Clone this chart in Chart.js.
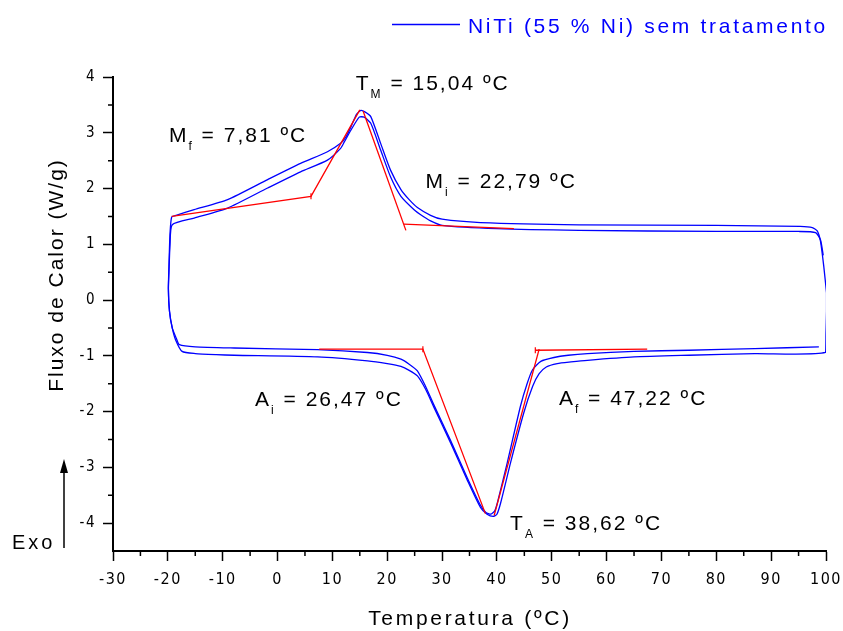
<!DOCTYPE html>
<html>
<head>
<meta charset="utf-8">
<script src="https://cdn.jsdelivr.net/npm/chart.js@4/dist/chart.umd.min.js"></script>
<style>
  html, body { margin: 0; padding: 0; background: #fff; }
</style>
</head>
<body>
<canvas id="dsc" width="843" height="631"></canvas>
<script>
// DSC curve, NiTi (55 % Ni) sem tratamento
// ciclo externo (upper branch on top, lower branch on bottom)
var externoT = [100.1, 99.6, 99.0, 98.4, 97.5, 95.3, 80, 55, 37, 30, 27.9, 25.5, 24.0, 22.5, 20.6, 18.8, 17.0, 16.0, 15.2, 14.4, 13.4, 12.5, 11.5, 9.1, 4.2, -1.8, -9.1, -15.2, -18.5, -19.3, -19.6, -19.8, -19.9, -19.7, -19.2, -18.6, -17.4, -15.0, -11.2, -7.9, 7.3, 16.4, 20.0, 22.5, 24.0, 25.5, 27.0, 28.5, 31.6, 34.6, 37.0, 38.2, 39.3, 40.0, 40.7, 42.5, 44.9, 46.5, 47.7, 49.0, 51.0, 53.5, 56.5, 65, 75, 87, 99.9, 100.0, 100.1, 100.1];
var externoQ = [0.13, 0.60, 1.05, 1.24, 1.30, 1.32, 1.34, 1.35, 1.39, 1.45, 1.52, 1.66, 1.80, 1.98, 2.33, 2.81, 3.29, 3.37, 3.40, 3.33, 3.11, 2.93, 2.81, 2.66, 2.45, 2.16, 1.80, 1.62, 1.52, 1.49, 1.20, 0.60, 0.20, -0.20, -0.50, -0.71, -0.92, -0.96, -0.98, -0.99, -1.02, -1.09, -1.14, -1.19, -1.26, -1.36, -1.60, -1.92, -2.57, -3.23, -3.72, -3.84, -3.88, -3.84, -3.63, -2.91, -2.02, -1.55, -1.32, -1.20, -1.14, -1.11, -1.08, -1.02, -0.99, -0.96, -0.94, -0.60, -0.20, 0.13];
// ciclo interno
var internoT = [99.5, 99.0, 98.1, 95, 80, 55, 40, 30, 27.9, 26.1, 24.9, 22.5, 20.6, 18.8, 17.0, 15.8, 14.9, 13.4, 12.2, 11.5, 9.1, 4.2, -1.8, -9.1, -15.2, -19.2, -19.6, -19.8, -19.9, -19.7, -19.2, -18.4, -17.9, -15.0, -7.9, 7.3, 16.4, 20.0, 22.5, 24.0, 25.5, 27.0, 28.5, 31.6, 34.6, 37.0, 38.0, 38.9, 39.6, 40.1, 41.9, 44.3, 45.5, 46.5, 48.0, 50.4, 53.0, 56.5, 65, 75, 87, 98.7];
var internoQ = [0.80, 1.08, 1.21, 1.23, 1.23, 1.25, 1.28, 1.34, 1.42, 1.53, 1.62, 1.86, 2.21, 2.69, 3.17, 3.28, 3.28, 3.05, 2.84, 2.72, 2.51, 2.30, 2.01, 1.65, 1.47, 1.35, 1.00, 0.50, 0.20, -0.20, -0.50, -0.70, -0.80, -0.84, -0.86, -0.89, -0.94, -0.99, -1.06, -1.15, -1.27, -1.55, -1.88, -2.53, -3.19, -3.68, -3.81, -3.84, -3.78, -3.63, -2.91, -1.90, -1.50, -1.25, -1.10, -1.03, -0.99, -0.96, -0.92, -0.90, -0.87, -0.84];

// tangent constructions (red)
var tanMfT = [-19.3, 6.1, 15.0];
var tanMfQ = [1.50, 1.86, 3.41];
var tanMiT = [15.6, 23.4];
var tanMiQ = [3.39, 1.25];
var baseMiT = [23.0, 43.1];
var baseMiQ = [1.36, 1.28];
var tanAiT = [7.6, 26.5, 37.9];
var tanAiQ = [-0.88, -0.88, -3.83];
var tanAfT = [39.5, 47.7];
var tanAfQ = [-3.86, -0.88];
var baseAfT = [47.0, 67.4];
var baseAfQ = [-0.90, -0.88];

var xTicks = [-30, -20, -10, 0, 10, 20, 30, 40, 50, 60, 70, 80, 90, 100];
var yTicks = [-4, -3, -2, -1, 0, 1, 2, 3, 4];

var legendLabel = 'NiTi (55 % Ni) sem tratamento';
var xTitle = 'Temperatura (\u00baC)';
var yTitle = 'Fluxo de Calor (W/g)';

// temperatures marked on the curve: letter, subscript, value
var marcas = [
  { t: 'T', s: 'M', v: '15,04', x: 14.26, y: 3.77 },
  { t: 'M', s: 'f', v: '7,81', x: -19.8, y: 2.84 },
  { t: 'M', s: 'i', v: '22,79', x: 27.0, y: 2.01 },
  { t: 'A', s: 'i', v: '26,47', x: -4.1, y: -1.90 },
  { t: 'A', s: 'f', v: '47,22', x: 51.3, y: -1.89 },
  { t: 'T', s: 'A', v: '38,62', x: 42.4, y: -4.12 }
];

function pts(xs, ys) {
  return xs.map(function (x, i) { return { x: x, y: ys[i] }; });
}

var BLUE = '#0000ff', RED = '#ff0000';
var FONT = "'Liberation Sans', Arial, sans-serif";
var NARROW = "'Liberation Sans Narrow', 'DejaVu Sans Condensed', 'Liberation Sans', sans-serif";

// little cross mark on the corner of a construction
function redSet(xs, ys, corner) {
  return {
    data: pts(xs, ys), borderColor: RED, borderWidth: 1.3, showLine: true, tension: 0, order: 0,
    pointStyle: 'line', rotation: 90, pointBorderColor: RED, pointBorderWidth: 1.2,
    pointRadius: xs.map(function (v, i) { return i === corner ? 3 : 0; })
  };
}

var extras = {
  id: 'extras',
  beforeDraw: function (chart) {
    chart.ctx.letterSpacing = '1.5px';
  },
  afterDraw: function (chart) {
    var ctx = chart.ctx, xs = chart.scales.x, ys = chart.scales.y, area = chart.chartArea;
    ctx.save();
    // minor ticks
    ctx.strokeStyle = '#000';
    ctx.lineWidth = 1.5;
    ctx.beginPath();
    for (var v = -25; v < 100; v += 10) {
      var px = xs.getPixelForValue(v);
      ctx.moveTo(px, area.bottom); ctx.lineTo(px, area.bottom + 5);
    }
    for (var w = -3.5; w < 4; w += 1) {
      var py = ys.getPixelForValue(w);
      ctx.moveTo(area.left, py); ctx.lineTo(area.left - 5, py);
    }
    ctx.stroke();

    // temperature labels
    ctx.fillStyle = '#000';
    ctx.textBaseline = 'alphabetic';
    ctx.textAlign = 'left';
    marcas.forEach(function (m) {
      var x0 = xs.getPixelForValue(m.x), y0 = ys.getPixelForValue(m.y);
      ctx.letterSpacing = '2px';
      ctx.font = '21px ' + FONT;
      ctx.fillText(m.t, x0, y0);
      var x1 = x0 + ctx.measureText(m.t).width;
      ctx.font = '12px ' + FONT;
      ctx.fillText(m.s, x1, y0 + 8);
      var x2 = x1 + ctx.measureText(m.s).width;
      ctx.font = '21px ' + FONT;
      ctx.fillText(' = ' + m.v + ' \u00baC', x2, y0);
    });

    // legend
    ctx.strokeStyle = BLUE;
    ctx.lineWidth = 1.3;
    ctx.beginPath(); ctx.moveTo(392, 24.5); ctx.lineTo(460, 24.5); ctx.stroke();
    ctx.fillStyle = BLUE;
    ctx.font = '21px ' + FONT;
    ctx.letterSpacing = '2.7px';
    ctx.fillText(legendLabel, 468, 32.5);

    // axis titles
    ctx.fillStyle = '#000';
    ctx.letterSpacing = '2.7px';
    ctx.textAlign = 'center';
    ctx.fillText(xTitle, 470, 625);
    ctx.save();
    ctx.translate(63, 275);
    ctx.rotate(-Math.PI / 2);
    ctx.letterSpacing = '2px';
    ctx.fillText(yTitle, 0, 0);
    ctx.restore();

    // Exo arrow
    ctx.textAlign = 'left';
    ctx.font = '20px ' + FONT;
    ctx.letterSpacing = '3px';
    ctx.fillText('Exo', 12, 549);
    ctx.strokeStyle = '#000';
    ctx.lineWidth = 1.5;
    ctx.beginPath(); ctx.moveTo(64, 472); ctx.lineTo(64, 548); ctx.stroke();
    ctx.beginPath();
    ctx.moveTo(64, 459); ctx.lineTo(60, 473); ctx.lineTo(68, 473); ctx.closePath();
    ctx.fill();
    ctx.restore();
  }
};

new Chart(document.getElementById('dsc'), {
  type: 'scatter',
  data: {
    datasets: [
      redSet(tanMfT, tanMfQ, 1),
      redSet(tanMiT, tanMiQ, -1),
      redSet(baseMiT, baseMiQ, -1),
      redSet(tanAiT, tanAiQ, 1),
      redSet(tanAfT, tanAfQ, -1),
      redSet(baseAfT, baseAfQ, 0),
      { label: legendLabel, data: pts(externoT, externoQ), borderColor: BLUE, borderWidth: 1.3, showLine: true, pointRadius: 0, tension: 0.2, order: 1 },
      { label: legendLabel, data: pts(internoT, internoQ), borderColor: BLUE, borderWidth: 1.3, showLine: true, pointRadius: 0, tension: 0.2, order: 1 }
    ]
  },
  options: {
    responsive: false,
    animation: false,
    layout: { padding: { left: 0, top: 77, right: 17, bottom: 0 } },
    plugins: { legend: { display: false }, tooltip: { enabled: false } },
    scales: {
      x: {
        type: 'linear', min: -30, max: 100,
        afterBuildTicks: function (s) { s.ticks = xTicks.map(function (v) { return { value: v }; }); },
        afterFit: function (s) { s.height = 80; s.paddingLeft = 0; s.paddingRight = 0; },
        border: { color: '#000', width: 2 },
        grid: { drawOnChartArea: false, tickLength: 10, tickWidth: 1.5, tickColor: '#000' },
        ticks: { color: '#000', padding: 9, font: { size: 16, family: NARROW } }
      },
      y: {
        type: 'linear', min: -4.5, max: 4,
        afterBuildTicks: function (s) { s.ticks = yTicks.map(function (v) { return { value: v }; }); },
        afterFit: function (s) { s.width = 113; s.paddingTop = 0; s.paddingBottom = 0; },
        border: { color: '#000', width: 2 },
        grid: { drawOnChartArea: false, tickLength: 10, tickWidth: 1.5, tickColor: '#000' },
        ticks: { color: '#000', padding: 7, font: { size: 15, family: NARROW } }
      }
    }
  },
  plugins: [extras]
});
</script>
</body>
</html>
